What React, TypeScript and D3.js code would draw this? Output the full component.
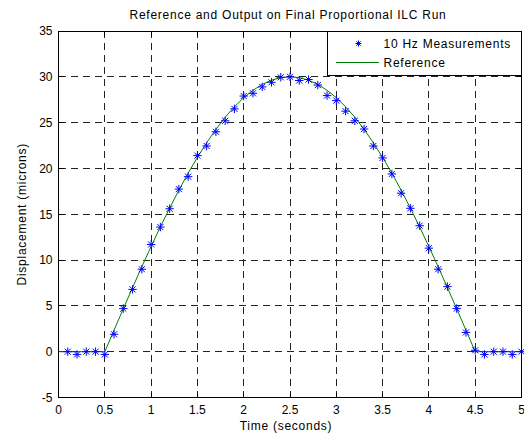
import React from "react";
import * as d3 from "d3";

const measTime = [0.1,0.2,0.3,0.4,0.5,0.6,0.7,0.8,0.9,1.0,1.1,1.2,1.3,1.4,1.5,1.6,1.7,1.8,1.9,2.0,2.1,2.2,2.3,2.4,2.5,2.6,2.7,2.8,2.9,3.0,3.1,3.2,3.3,3.4,3.5,3.6,3.7,3.8,3.9,4.0,4.1,4.2,4.3,4.4,4.5,4.6,4.7,4.8,4.9,5.0];
const measValue = [0,-0.3,0,0,-0.3,1.9,4.7,6.8,9.0,11.7,13.6,15.6,17.75,19.1,21.4,22.45,24.0,25.2,26.5,27.9,28.2,28.9,29.4,29.95,30.0,29.6,29.7,29.1,27.95,27.4,26.25,25.2,24.3,22.45,21.15,19.4,17.3,15.65,13.75,11.3,9.0,7.1,4.7,2.1,0.15,-0.3,0,0,-0.3,0];

const refTime = [0,0.1,0.2,0.3,0.4,0.5,0.6,0.7,0.8,0.9,1.0,1.1,1.2,1.3,1.4,1.5,1.6,1.7,1.8,1.9,2.0,2.1,2.2,2.3,2.4,2.5,2.6,2.7,2.8,2.9,3.0,3.1,3.2,3.3,3.4,3.5,3.6,3.7,3.8,3.9,4.0,4.1,4.2,4.3,4.4,4.5,4.6,4.7,4.8,4.9,5.0];
const refValue = [0,0,0,0,0,0,2.35,4.69,7.0,9.27,11.48,13.62,15.67,17.63,19.48,21.21,22.8,24.27,25.59,26.73,27.72,28.53,29.17,29.63,29.91,30.0,29.91,29.63,29.17,28.53,27.72,26.73,25.59,24.27,22.8,21.21,19.48,17.63,15.67,13.62,11.48,9.27,7.0,4.69,2.35,0,0,0,0,0,0];

const xTicks = [0,0.5,1,1.5,2,2.5,3,3.5,4,4.5,5];
const xTickLabels = ["0","0.5","1","1.5","2","2.5","3","3.5","4","4.5","5"];
const yTicks = [-5,0,5,10,15,20,25,30,35];
const yTickLabels = ["-5","0","5","10","15","20","25","30","35"];

const titleText = "Reference and Output on Final Proportional ILC Run";
const xLabel = "Time (seconds)";
const yLabel = "Displacement (microns)";
const legendLabels = ["10 Hz Measurements", "Reference"];

const W = 524, H = 436;
const L = 58.5, R = 521.5, T = 31, B = 397.5;
const FONT = "'Liberation Sans', Arial, sans-serif";
const LS = 0.75;

function Star({ x, y, r }: { x: number; y: number; r: number }) {
  const d = r * 0.72;
  return (
    <path
      d={`M${x - r},${y}H${x + r}M${x},${y - r}V${y + r}M${x - d},${y - d}L${x + d},${y + d}M${x - d},${y + d}L${x + d},${y - d}`}
      stroke="#0000ff"
      strokeWidth={1}
      fill="none"
    />
  );
}

export default function App() {
  const x = d3.scaleLinear().domain([0, 5]).range([L, R]);
  const y = d3.scaleLinear().domain([-5, 35]).range([B, T]);
  const line = d3
    .line<number>()
    .x((_, i) => x(refTime[i]))
    .y((v) => y(v));

  const tl = 5;
  return (
    <svg
      width={W}
      height={H}
      style={{ position: "absolute", left: 0, top: 0, background: "#fff" }}
      fontFamily={FONT}
    >
      <rect x={0} y={0} width={W} height={H} fill="#fff" />
      {/* grid */}
      <g stroke="#222" strokeWidth={1} strokeDasharray="7,5" shapeRendering="crispEdges">
        {xTicks.slice(1, -1).map((t) => (
          <line key={"gx" + t} x1={x(t)} x2={x(t)} y1={B} y2={T} />
        ))}
        {yTicks.slice(1, -1).map((t) => (
          <line key={"gy" + t} x1={L} x2={R} y1={y(t)} y2={y(t)} />
        ))}
      </g>
      {/* ticks */}
      <g stroke="#000" strokeWidth={1} shapeRendering="crispEdges">
        {xTicks.map((t) => (
          <g key={"tx" + t}>
            <line x1={x(t)} x2={x(t)} y1={B} y2={B - tl} />
            <line x1={x(t)} x2={x(t)} y1={T} y2={T + tl} />
          </g>
        ))}
        {yTicks.map((t) => (
          <g key={"ty" + t}>
            <line x1={L} x2={L + tl} y1={y(t)} y2={y(t)} />
            <line x1={R} x2={R - tl} y1={y(t)} y2={y(t)} />
          </g>
        ))}
      </g>
      {/* reference line */}
      <path d={line(refValue) || ""} stroke="#008000" strokeWidth={1} fill="none" />
      {/* measurements */}
      {measValue.map((v, i) => (
        <Star key={"m" + i} x={x(measTime[i])} y={y(v)} r={4.2} />
      ))}
      {/* axes box */}
      <rect x={L} y={T} width={R - L} height={B - T} fill="none" stroke="#000" strokeWidth={1} shapeRendering="crispEdges" />
      {/* tick labels */}
      <g fontSize={12} fill="#000">
        {xTicks.map((t, i) => (
          <text key={"lx" + t} x={x(t)} y={B + 16} textAnchor="middle">
            {xTickLabels[i]}
          </text>
        ))}
        {yTicks.map((t, i) => (
          <text key={"ly" + t} x={L - 6} y={y(t) + 4.3} textAnchor="end">
            {yTickLabels[i]}
          </text>
        ))}
      </g>
      {/* labels */}
      <text x={288} y={19} textAnchor="middle" fontSize={12} letterSpacing={LS}>
        {titleText}
      </text>
      <text x={286} y={430} textAnchor="middle" fontSize={12} letterSpacing={LS}>
        {xLabel}
      </text>
      <text
        transform={`translate(26,${(T + B) / 2}) rotate(-90)`}
        textAnchor="middle"
        fontSize={12}
        letterSpacing={LS}
      >
        {yLabel}
      </text>
      {/* legend */}
      <rect x={327.5} y={T} width={R - 327.5} height={44.5} fill="#fff" stroke="#000" strokeWidth={1} shapeRendering="crispEdges" />
      <Star x={358.5} y={43.5} r={3} />
      <text x={383.5} y={47.8} fontSize={12} letterSpacing={LS}>
        {legendLabels[0]}
      </text>
      <line x1={336} x2={379} y1={62.5} y2={62.5} stroke="#008000" strokeWidth={1} />
      <text x={383.5} y={66.8} fontSize={12} letterSpacing={LS}>
        {legendLabels[1]}
      </text>
    </svg>
  );
}
